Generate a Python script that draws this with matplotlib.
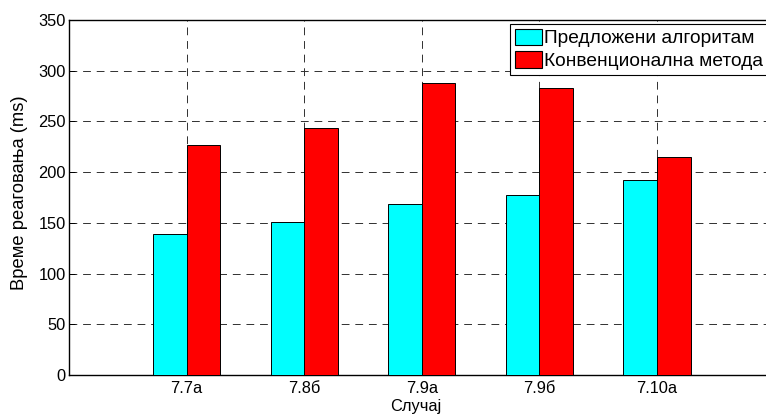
import matplotlib
matplotlib.use("Agg")
import matplotlib.pyplot as plt
import numpy as np

categories = ["7.7а", "7.8б", "7.9а", "7.9б", "7.10а"]
proposed = [139, 151, 169, 177, 192]
conventional = [227, 244, 288, 283, 215]
series_names = ["Предложени алгоритам", "Конвенционална метода"]
yticks = [0, 50, 100, 150, 200, 250, 300, 350]

plt.rcParams['font.family'] = ['Liberation Sans', 'DejaVu Sans']

W, H = 766, 417
fig = plt.figure(figsize=(W / 100, H / 100), dpi=100)
left, right, top, bottom = 69, 774.5, 20, 375
ax = fig.add_axes([left / W, (H - bottom) / H, (right - left) / W, (bottom - top) / H])

x = np.arange(1, len(categories) + 1)
bw = 2 / 3.5 / 2
ax.bar(x - bw / 2, proposed, width=bw, color='#00FFFF', edgecolor='black', linewidth=0.7,
       label=series_names[0], zorder=3)
ax.bar(x + bw / 2, conventional, width=bw, color='#FF0000', edgecolor='black', linewidth=0.7,
       label=series_names[1], zorder=3)

ax.set_xlim(0, 6)
ax.set_ylim(0, 350)
ax.set_xticks(x)
ax.set_xticklabels(categories)
ax.set_yticks(yticks)
ax.tick_params(axis='both', direction='in', length=4, width=0.7, labelsize=11.75, colors='black')
ax.tick_params(axis='y', pad=2.5)
ax.tick_params(axis='x', pad=4)
ax.set_axisbelow(True)
ax.grid(True, color='#303030', linewidth=0.7, linestyle=(0, (8, 6)))

for s in ax.spines.values():
    s.set_linewidth(1.0)
    s.set_color('black')

fig.text(19.5 / W, 1 - 192.5 / H, "Време реаговања (ms)", fontsize=13.2, rotation=90,
         ha='center', va='center')
fig.text(416 / W, 1 - 407 / H, "Случај", fontsize=11.75, ha='center', va='center')

leg = ax.legend(loc='upper left', bbox_to_anchor=((510 - left) / (right - left), 1 - 4 / (bottom - top)),
                borderaxespad=0, fontsize=13.8, frameon=True, fancybox=False,
                edgecolor='black', framealpha=1, handlelength=1.42, handleheight=0.92,
                handletextpad=0.12, borderpad=0.24, labelspacing=0.22)
leg.get_frame().set_linewidth(0.8)
for p in leg.get_patches():
    p.set_linewidth(0.8)

fig.savefig("out.png", dpi=100)
